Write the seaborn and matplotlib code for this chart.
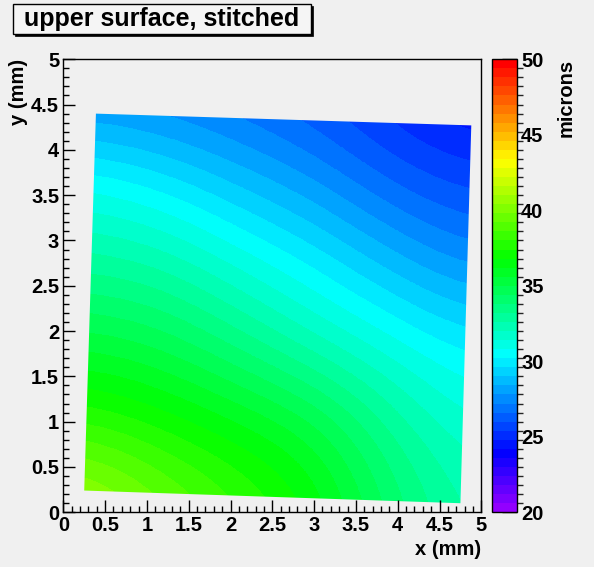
import colorsys
import numpy as np
import matplotlib
matplotlib.use("Agg")
import matplotlib.pyplot as plt
from matplotlib.colors import ListedColormap, BoundaryNorm
from matplotlib.patches import Polygon, Rectangle
from matplotlib.ticker import MultipleLocator, FormatStrFormatter
import seaborn as sns

# surface height (microns) on a coarse, evenly spaced grid
x_mm = [0.25, 1.17, 2.09, 3.01, 3.93, 4.85]
y_mm = [0.10, 1.00, 1.90, 2.80, 3.70, 4.60]
z_row_y010 = [41.2, 39.6, 38.3, 36.9, 34.2, 32.4]
z_row_y100 = [38.0, 37.2, 36.3, 35.3, 33.0, 31.4]
z_row_y190 = [35.3, 34.8, 33.5, 32.0, 30.9, 29.9]
z_row_y280 = [32.8, 32.4, 31.1, 30.0, 28.6, 27.4]
z_row_y370 = [30.6, 29.8, 28.7, 27.7, 26.3, 25.6]
z_row_y460 = [27.2, 27.0, 26.5, 25.8, 24.8, 23.9]

# outline of the measured (stitched) area
edge_x = [0.39, 4.88, 4.75, 0.25]
edge_y = [4.40, 4.27, 0.10, 0.24]

z_min, z_max, n_levels = 20, 50, 50
cbar_ticks = [20, 25, 30, 35, 40, 45, 50]
title = "upper surface, stitched"

sns.set_theme(style="ticks")
plt.rcParams['font.family'] = ['Liberation Sans', 'DejaVu Sans']
plt.rcParams['font.weight'] = 'bold'
plt.rcParams['axes.labelweight'] = 'bold'

bg = '#f0f0f0'

# ROOT style palette: 50 saturated hues from violet down to red
hues = [(280 - (i + 1) * 280 / n_levels) / 360 for i in range(n_levels)]
palette = sns.color_palette([colorsys.hls_to_rgb(h, 0.5, 1.0) for h in hues])
cmap = ListedColormap(palette)
levels = np.linspace(z_min, z_max, n_levels + 1)
norm = BoundaryNorm(levels, cmap.N)

z = np.array([z_row_y010, z_row_y100, z_row_y190,
              z_row_y280, z_row_y370, z_row_y460])
dx = x_mm[1] - x_mm[0]
dy = y_mm[1] - y_mm[0]

fig = plt.figure(figsize=(5.94, 5.67), dpi=100, facecolor=bg)
ax = fig.add_axes([0.1066, 0.0965, 0.7037, 0.799])
ax.set_facecolor(bg)

im = ax.imshow(z, origin='lower', cmap=cmap, norm=norm, aspect='auto',
               extent=[x_mm[0] - dx / 2, x_mm[-1] + dx / 2,
                       y_mm[0] - dy / 2, y_mm[-1] + dy / 2],
               interpolation='bicubic', interpolation_stage='data')
edge = Polygon(np.column_stack([edge_x, edge_y]), closed=True,
               transform=ax.transData, facecolor='none', edgecolor='none')
ax.add_patch(edge)
im.set_clip_path(edge)

ax.set_xlim(0, 5)
ax.set_ylim(0, 5)
for s in ax.spines.values():
    s.set_color('black')
    s.set_linewidth(1)
ax.xaxis.set_major_locator(MultipleLocator(0.5))
ax.xaxis.set_minor_locator(MultipleLocator(0.1))
ax.yaxis.set_major_locator(MultipleLocator(0.5))
ax.yaxis.set_minor_locator(MultipleLocator(0.1))
ax.xaxis.set_major_formatter(FormatStrFormatter('%g'))
ax.yaxis.set_major_formatter(FormatStrFormatter('%g'))
ax.tick_params(which='major', direction='in', length=8.5, width=1,
               color='black', labelsize=14.5, labelcolor='black', pad=3)
ax.tick_params(which='minor', direction='in', length=4.3, width=1, color='black')
for lab in ax.get_xticklabels() + ax.get_yticklabels():
    lab.set_fontweight('bold')

ax.set_xlabel('x (mm)', loc='right', fontsize=14.5, fontweight='bold',
              color='black', labelpad=3)
ax.set_ylabel('y (mm)', loc='top', fontsize=14.5, fontweight='bold',
              color='black', labelpad=2)

cax = fig.add_axes([0.8283, 0.0965, 0.0421, 0.799])
cb = fig.colorbar(im, cax=cax, ticks=cbar_ticks)
cb.outline.set_edgecolor('black')
cb.outline.set_linewidth(1)
cb.ax.tick_params(direction='in', length=10.5, width=1, color='black',
                  labelsize=14.5, labelcolor='black', pad=3)
for lab in cb.ax.get_yticklabels():
    lab.set_fontweight('bold')
cb.set_label('microns', loc='top', fontsize=14.5, fontweight='bold',
             color='black', labelpad=9)

# title box with ROOT-like drop shadow
bx0, by0, bw, bh = 12.7 / 594, 1 - 34 / 567, 298 / 594, 30 / 567
fig.patches.append(Rectangle((bx0 + 2 / 594, by0 - 2 / 567), bw, bh,
                             transform=fig.transFigure, facecolor='black',
                             edgecolor='black', linewidth=0.5))
fig.patches.append(Rectangle((bx0, by0), bw, bh, transform=fig.transFigure,
                             facecolor='#f5f5f5', edgecolor='black', linewidth=1))
fig.text(bx0 + bw / 2, by0 + bh / 2, title, ha='center', va='center',
         fontsize=18, fontweight='bold', color='black')

fig.savefig('out.png', dpi=100, facecolor=bg)
